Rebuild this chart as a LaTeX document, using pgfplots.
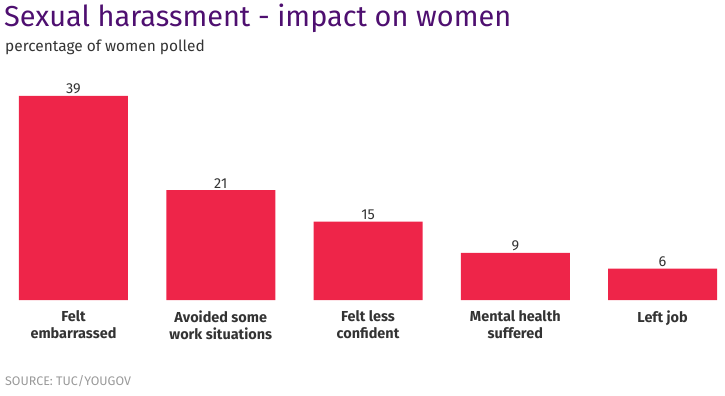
\documentclass[border=0pt]{standalone}
\usepackage{pgfplots}
\pgfplotsset{compat=1.18}
\usepackage{fontspec}
\setmainfont{Fira Sans}
\definecolor{barred}{HTML}{EE2549}
\definecolor{titlepurple}{HTML}{4E0F70}
\definecolor{txtdark}{HTML}{333333}
\definecolor{srcgray}{HTML}{999999}
\begin{document}
\begin{tikzpicture}[x=1bp,y=1bp]
\useasboundingbox (0,0) rectangle (725,395);
\node[anchor=base west, inner sep=0, text=titlepurple, font=\fontsize{29}{31}\selectfont] at (4,369) {Sexual harassment - impact on women};
\node[anchor=base west, inner sep=0, text=txtdark, font=\fontsize{15.5}{17}\selectfont] at (5,344) {percentage of women polled};
\node[anchor=base west, inner sep=0, text=srcgray, font=\fontsize{12.5}{13}\selectfont] at (5,10) {SOURCE: TUC/YOUGOV};
\begin{axis}[
  at={(0bp,95bp)}, anchor=south west,
  scale only axis, width=725bp, height=219.7bp,
  xmin=-0.499, xmax=4.424, ymin=0, ymax=42,
  axis line style={draw=none},
  ytick=\empty,
  xtick=data,
  xticklabels={{Felt\\embarrassed},{Avoided some\\work situations},{Felt less\\confident},{Mental health\\suffered},{Left job}},
  xticklabel style={align=center, font=\bfseries\fontsize{14.5}{17}\selectfont, text=txtdark, yshift=-7bp},
  major tick length=0,
  ybar, bar width=109bp,
  nodes near coords,
  /pgf/number format/assume math mode=true,
  nodes near coords style={font=\fontsize{14.5}{16}\selectfont, text=txtdark, yshift=-1.5bp},
  clip=false,
]
\addplot[fill=barred, draw=none] coordinates {(0,39) (1,21) (2,15) (3,9) (4,6)};
\end{axis}
\end{tikzpicture}
\end{document}
